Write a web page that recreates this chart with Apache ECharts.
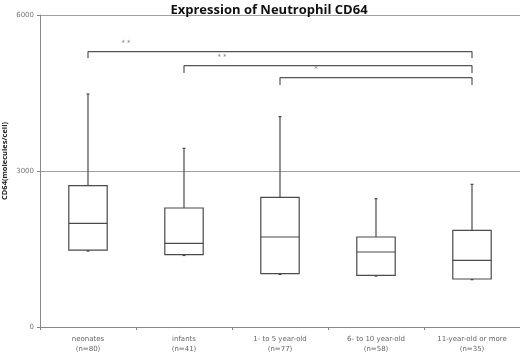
<!DOCTYPE html>
<html>
<head>
<meta charset="utf-8">
<script src="https://cdn.jsdelivr.net/npm/echarts@6/dist/echarts.min.js"></script>
<style>
  html, body { margin: 0; padding: 0; background: #fff; }
  #chart { width: 520px; height: 355px; }
</style>
</head>
<body>
<div id="chart"></div>
<script>
// categories on the x axis
const groups = ['neonates\n(n=80)', 'infants\n(n=41)', '1- to 5 year-old\n(n=77)', '6- to 10 year-old\n(n=58)', '11-year-old or more\n(n=35)'];
// box stats: [min, Q1, median, Q3, max]
const boxMin = [1460, 1375, 1010, 980, 910];
const boxQ1 = [1480, 1391, 1026, 994, 923];
const boxMedian = [1994, 1609, 1731, 1442, 1282];
const boxQ3 = [2717, 2288, 2494, 1731, 1860];
const boxMax = [4480, 3436, 4045, 2468, 2744];
// significance brackets: from group, to group, top level, leg end level, label
const bracketFrom = [0, 1, 2];
const bracketTo = [4, 4, 4];
const bracketTop = [5294, 5025, 4794];
const bracketLeg = [5173, 4885, 4654];
const bracketText = ['* *', '* *', '*'];
const yTicks = [0, 3000, 6000];

const chart = echarts.init(document.getElementById('chart'));

const boxData = groups.map((g, i) => [i, boxMin[i], boxQ1[i], boxMedian[i], boxQ3[i], boxMax[i]]);

// box drawn by hand so whisker caps stay short like the original
function renderBox(params, api) {
  const idx = api.value(0);
  const pMin = api.coord([idx, api.value(1)]);
  const pQ1 = api.coord([idx, api.value(2)]);
  const pMed = api.coord([idx, api.value(3)]);
  const pQ3 = api.coord([idx, api.value(4)]);
  const pMax = api.coord([idx, api.value(5)]);
  const bw = api.size([1, 0])[0] * 0.4;
  const x = pQ1[0];
  const st = { stroke: '#4a4a4a', lineWidth: 1.2, fill: null };
  return {
    type: 'group',
    children: [
      { type: 'line', shape: { x1: x, y1: pQ3[1], x2: x, y2: pMax[1] }, style: st },
      { type: 'line', shape: { x1: x - 1.5, y1: pMax[1], x2: x + 1.5, y2: pMax[1] }, style: st },
      { type: 'line', shape: { x1: x, y1: pQ1[1], x2: x, y2: pMin[1] }, style: st },
      { type: 'line', shape: { x1: x - 1.5, y1: pMin[1], x2: x + 1.5, y2: pMin[1] }, style: st },
      { type: 'rect', shape: { x: x - bw / 2, y: pQ3[1], width: bw, height: pQ1[1] - pQ3[1] },
        style: { stroke: '#4a4a4a', lineWidth: 1.2, fill: '#fff' } },
      { type: 'line', shape: { x1: x - bw / 2, y1: pMed[1], x2: x + bw / 2, y2: pMed[1] }, style: st }
    ]
  };
}

const bracketSeries = bracketFrom.map((f, k) => ({
  type: 'line',
  silent: true,
  symbol: 'none',
  lineStyle: { color: '#555', width: 1.2 },
  data: [[f, bracketLeg[k]], [f, bracketTop[k]], [bracketTo[k], bracketTop[k]], [bracketTo[k], bracketLeg[k]]],
  z: 3
}));

const labelSeries = {
  type: 'scatter',
  symbolSize: 0,
  silent: true,
  data: bracketFrom.map((f, k) => ({
    value: [f, bracketTop[k]],
    label: {
      show: true,
      formatter: bracketText[k],
      position: 'top',
      offset: [k === 2 ? 36 : 38, 0],
      color: '#666',
      fontSize: 7,
      fontFamily: 'DejaVu Sans'
    }
  }))
};

chart.setOption({
  animation: false,
  title: {
    text: 'Expression of Neutrophil CD64',
    left: 264,
    textAlign: 'center',
    top: -1,
    textStyle: { fontFamily: 'Open Sans', fontWeight: 'bold', fontSize: 13, color: '#111' }
  },
  grid: { left: 40, right: 0, top: 15, bottom: 28, containLabel: false, outerBoundsMode: 'none' },
  xAxis: {
    type: 'category',
    data: groups,
    axisLine: { lineStyle: { color: '#888', width: 1 } },
    axisTick: { show: true, length: 3, lineStyle: { color: '#888' } },
    axisLabel: { color: '#666', fontSize: 7, lineHeight: 10, margin: 7, fontFamily: 'DejaVu Sans', interval: 0 },
    splitLine: { show: false }
  },
  yAxis: {
    type: 'value',
    min: yTicks[0],
    max: yTicks[yTicks.length - 1],
    interval: 3000,
    name: 'CD64(molecules/cell)',
    nameLocation: 'middle',
    nameGap: 31,
    nameMoveOverlap: false,
    nameTextStyle: { fontFamily: 'Open Sans', fontWeight: 'bold', fontSize: 7.5, color: '#222', padding: [0, 0, 0, 20] },
    axisLine: { show: true, lineStyle: { color: '#888' } },
    axisTick: { show: true, length: 3, lineStyle: { color: '#888' } },
    axisLabel: { color: '#777', fontSize: 7, margin: 6, fontFamily: 'DejaVu Sans', formatter: v => String(v) },
    splitLine: { show: true, lineStyle: { color: '#a0a0a0', width: 1 } }
  },
  series: [
    {
      type: 'custom',
      renderItem: renderBox,
      encode: { x: 0, y: [1, 2, 3, 4, 5] },
      data: boxData,
      z: 4
    },
    ...bracketSeries,
    labelSeries
  ]
});
</script>
</body>
</html>
